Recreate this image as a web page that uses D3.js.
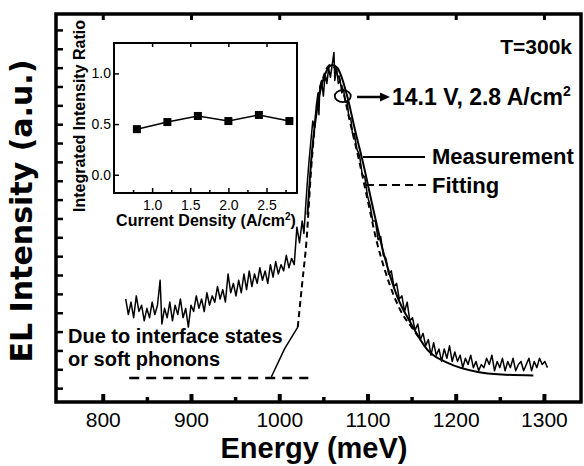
<!DOCTYPE html>
<html>
<head>
<meta charset="utf-8">
<script src="https://cdn.jsdelivr.net/npm/d3@7"></script>
<style>
  body { margin: 0; background: #fff; }
  svg { display: block; }
  text { font-family: "Liberation Sans", Arial, sans-serif; fill: #000; }
</style>
</head>
<body>
<div id="chart"></div>
<script>
// ---- data ----
// measured EL spectrum: [energy meV, intensity a.u.]
var measured = [
  [826,0.25],[829,0.20],[832,0.24],[835,0.19],[838,0.26],[841,0.21],[844,0.23],[847,0.18],[850,0.22],[853,0.19],
  [856,0.24],[859,0.20],[862,0.23],[865,0.31],[867,0.17],[870,0.22],[873,0.19],[876,0.24],[879,0.18],[882,0.23],
  [885,0.20],[888,0.25],[891,0.19],[894,0.22],[897,0.16],[900,0.23],[903,0.21],[906,0.26],[909,0.22],[912,0.25],
  [915,0.21],[918,0.27],[921,0.23],[924,0.26],[927,0.24],[930,0.29],[933,0.25],[936,0.28],[939,0.24],[942,0.33],
  [945,0.27],[948,0.30],[951,0.26],[954,0.31],[957,0.27],[960,0.33],[963,0.28],[966,0.34],[969,0.29],[972,0.33],
  [975,0.30],[978,0.35],[981,0.31],[984,0.34],[987,0.30],[990,0.36],[993,0.32],[996,0.37],[999,0.33],[1002,0.36],
  [1005,0.34],[1008,0.39],[1011,0.35],[1014,0.38],[1017,0.36],[1020,0.48],[1023,0.43],[1026,0.50],[1028,0.46],[1030,0.55],
  [1032,0.63],[1034,0.70],[1036,0.76],[1038,0.82],[1040,0.80],[1042,0.87],[1044,0.91],[1045,0.84],[1046,0.93],[1048,0.95],
  [1050,0.90],[1052,0.97],[1054,0.94],[1056,0.99],[1058,0.96],[1060,1.00],[1062,1.04],[1063,0.95],[1065,0.99],[1067,0.94],
  [1069,0.95],[1071,0.91],[1073,0.92],[1075,0.88],[1077,0.88],[1079,0.83],[1081,0.83],[1083,0.78],[1085,0.78],[1088,0.73],
  [1091,0.71],[1094,0.65],[1097,0.64],[1100,0.58],[1103,0.55],[1106,0.50],[1109,0.50],[1112,0.44],[1115,0.45],[1118,0.39],
  [1121,0.38],[1124,0.33],[1127,0.34],[1130,0.29],[1133,0.30],[1136,0.25],[1139,0.26],[1142,0.21],[1145,0.24],[1148,0.18],
  [1151,0.19],[1154,0.15],[1157,0.17],[1160,0.12],[1163,0.14],[1166,0.10],[1169,0.12],[1172,0.07],[1175,0.11],[1178,0.07],
  [1181,0.09],[1184,0.05],[1187,0.09],[1190,0.06],[1193,0.10],[1196,0.05],[1199,0.08],[1202,0.05],[1205,0.07],[1208,0.03],
  [1211,0.06],[1214,0.04],[1217,0.07],[1220,0.03],[1223,0.05],[1226,0.02],[1229,0.04],[1232,0.03],[1235,0.06],[1238,0.04],
  [1241,0.07],[1244,0.02],[1247,0.05],[1250,0.03],[1253,0.06],[1256,0.02],[1259,0.05],[1262,0.03],[1265,0.06],[1268,0.02],
  [1271,0.04],[1274,0.05],[1277,0.02],[1280,0.04],[1283,0.06],[1286,0.02],[1289,0.05],[1292,0.03],[1295,0.06],[1298,0.04],
  [1301,0.05],[1304,0.03]
];

// smooth solid curve (low-energy foot and main peak)
var footSolid = [[991,0.0],[1006,0.09],[1021,0.16]];
var fitSolid = [
  [1032,0.52],[1037,0.72],[1044,0.88],[1052,0.97],[1060,1.0],[1066,0.99],[1072,0.95],[1077,0.90],
  [1086,0.79],[1095,0.686],[1106,0.545],[1118,0.40],[1134,0.256],[1149,0.173],[1168,0.087],
  [1191,0.045],[1225,0.016],[1252,0.008],[1288,0.005]
];
// dashed fitting curve
var fitDashed = [
  [1021,0.16],[1026,0.30],[1031,0.44],[1036,0.66],[1042,0.85],[1050,0.96],[1058,1.0],[1065,0.98],
  [1072,0.92],[1080,0.82],[1090,0.70],[1100,0.57],[1110,0.44],[1120,0.34],[1130,0.26],[1140,0.20],
  [1150,0.16],[1160,0.12]
];
// dashed baseline of the interface-state band
var baseDashed = [[830,-0.003],[1033,-0.003]];

// inset: integrated intensity ratio vs current density
var currentDensity = [0.8, 1.2, 1.6, 2.0, 2.4, 2.8];
var intensityRatio = [0.45, 0.52, 0.58, 0.53, 0.59, 0.53];

// ticks
var xMajor = [800, 900, 1000, 1100, 1200, 1300];
var xMinor = [850, 950, 1050, 1150, 1250];
var yTicks = d3.range(20).map(function (k) { return 1.112 - k * 0.0604; });
var insetXMajor = [1.0, 1.5, 2.0, 2.5];
var insetXMinor = [0.75, 1.25, 1.75, 2.25, 2.75];
var insetYMajor = [0.0, 0.5, 1.0];

// annotation point (circled)
var circled = [1072, 0.9];

// ---- layout ----
var W = 584, H = 466;
var frame = { left: 56, right: 581, top: 14, bottom: 402 };

var svg = d3.select("#chart").append("svg")
  .attr("width", W)
  .attr("height", H);

var x = d3.scaleLinear().domain([747, 1342]).range([frame.left, frame.right]);
var y = d3.scaleLinear().domain([-0.08, 1.163]).range([frame.bottom, frame.top]);

var line = d3.line()
  .x(function (d) { return x(d[0]); })
  .y(function (d) { return y(d[1]); });

///////////////////////////////////////////////////////////////
// axes (ticks inward, frame drawn separately)
var gx = svg.append("g")
  .attr("transform", "translate(0," + frame.bottom + ")")
  .call(d3.axisBottom(x).tickValues(xMajor).tickSize(-8).tickPadding(10).tickFormat(d3.format("d")));
gx.select(".domain").remove();
gx.selectAll(".tick line").attr("stroke-width", 4);
gx.selectAll("text").style("font-size", "21px");

var gxm = svg.append("g")
  .attr("transform", "translate(0," + frame.bottom + ")")
  .call(d3.axisBottom(x).tickValues(xMinor).tickSize(-5).tickFormat(""));
gxm.select(".domain").remove();
gxm.selectAll(".tick line").attr("stroke-width", 3.5);

var gxt = svg.append("g")
  .attr("transform", "translate(0," + frame.top + ")")
  .call(d3.axisTop(x).tickValues(xMajor).tickSize(-6).tickFormat(""));
gxt.select(".domain").remove();
gxt.selectAll(".tick line").attr("stroke-width", 3);

var gy = svg.append("g")
  .attr("transform", "translate(" + frame.left + ",0)")
  .call(d3.axisLeft(y).tickValues(yTicks).tickSize(-7).tickFormat(""));
gy.select(".domain").remove();
gy.selectAll(".tick line").attr("stroke-width", 2.5);

svg.append("rect")
  .attr("x", frame.left).attr("y", frame.top)
  .attr("width", frame.right - frame.left)
  .attr("height", frame.bottom - frame.top)
  .attr("fill", "none").attr("stroke", "#000").attr("stroke-width", 3.5);

///////////////////////////////////////////////////////////////
// curves
svg.append("path").datum(baseDashed)
  .attr("d", line).attr("fill", "none").attr("stroke", "#000")
  .attr("stroke-width", 2.5).attr("stroke-dasharray", "10,7");

svg.append("path").datum(footSolid)
  .attr("d", line).attr("fill", "none").attr("stroke", "#000").attr("stroke-width", 1.5);

svg.append("path").datum(fitDashed)
  .attr("d", line.curve(d3.curveMonotoneX)).attr("fill", "none").attr("stroke", "#000")
  .attr("stroke-width", 2).attr("stroke-dasharray", "6,4");

svg.append("path").datum(fitSolid)
  .attr("d", line.curve(d3.curveMonotoneX)).attr("fill", "none").attr("stroke", "#000").attr("stroke-width", 2);

svg.append("path").datum(measured)
  .attr("d", line.curve(d3.curveLinear)).attr("fill", "none").attr("stroke", "#000")
  .attr("stroke-width", 1.5).attr("stroke-linejoin", "round");

///////////////////////////////////////////////////////////////
// annotations
svg.append("ellipse")
  .attr("cx", x(circled[0])).attr("cy", y(circled[1]))
  .attr("rx", 8).attr("ry", 6)
  .attr("fill", "none").attr("stroke", "#000").attr("stroke-width", 1.8);

svg.append("line")
  .attr("x1", 357).attr("y1", 97).attr("x2", 382).attr("y2", 97)
  .attr("stroke", "#000").attr("stroke-width", 2.5);
svg.append("path")
  .attr("d", "M380,92.5L390,97L380,101.5Z").attr("fill", "#000");

var note = svg.append("text").attr("x", 392).attr("y", 105)
  .style("font-size", "23px").style("font-weight", "bold");
note.append("tspan").text("14.1 V, 2.8 A/cm");
note.append("tspan").attr("dy", -9).style("font-size", "14px").text("2");

svg.append("text").attr("x", 572).attr("y", 54).attr("text-anchor", "end")
  .style("font-size", "21px").style("font-weight", "bold").text("T=300k");

// legend
svg.append("line").attr("x1", 363).attr("x2", 425).attr("y1", 157).attr("y2", 157)
  .attr("stroke", "#000").attr("stroke-width", 2);
svg.append("text").attr("x", 432).attr("y", 164)
  .style("font-size", "22px").style("font-weight", "bold").text("Measurement");
svg.append("line").attr("x1", 366).attr("x2", 428).attr("y1", 185).attr("y2", 185)
  .attr("stroke", "#000").attr("stroke-width", 2).attr("stroke-dasharray", "8,5");
svg.append("text").attr("x", 432).attr("y", 193)
  .style("font-size", "22px").style("font-weight", "bold").text("Fitting");

svg.append("text").attr("x", 68).attr("y", 343)
  .style("font-size", "20px").style("font-weight", "bold").text("Due to interface states");
svg.append("text").attr("x", 68).attr("y", 366)
  .style("font-size", "20px").style("font-weight", "bold").text("or soft phonons");

// axis titles
svg.append("text").attr("x", 314).attr("y", 458).attr("text-anchor", "middle")
  .style("font-size", "29px").style("font-weight", "bold").text("Energy (meV)");
svg.append("text")
  .attr("transform", "translate(32,211)rotate(-90)")
  .attr("text-anchor", "middle")
  .style("font-family", "'DejaVu Sans', sans-serif")
  .style("font-size", "30px").style("font-weight", "bold").text("EL Intensity (a.u.)");

///////////////////////////////////////////////////////////////
// inset
var inset = { left: 114, right: 297, top: 43, bottom: 193 };
var xi = d3.scaleLinear().domain([0.5, 2.9]).range([inset.left, inset.right]);
var yi = d3.scaleLinear().domain([-0.18, 1.30]).range([inset.bottom, inset.top]);

svg.append("rect")
  .attr("x", inset.left).attr("y", inset.top)
  .attr("width", inset.right - inset.left).attr("height", inset.bottom - inset.top)
  .attr("fill", "#fff");

var ix = svg.append("g")
  .attr("transform", "translate(0," + inset.bottom + ")")
  .call(d3.axisBottom(xi).tickValues(insetXMajor).tickSize(-5).tickPadding(7).tickFormat(d3.format(".1f")));
ix.select(".domain").remove();
ix.selectAll(".tick line").attr("stroke-width", 1.5);
ix.selectAll("text").style("font-size", "14px");

var ixm = svg.append("g")
  .attr("transform", "translate(0," + inset.bottom + ")")
  .call(d3.axisBottom(xi).tickValues(insetXMinor).tickSize(-3).tickFormat(""));
ixm.select(".domain").remove();
ixm.selectAll(".tick line").attr("stroke-width", 1.5);

var ixt = svg.append("g")
  .attr("transform", "translate(0," + inset.top + ")")
  .call(d3.axisTop(xi).tickValues(insetXMajor).tickSize(-4).tickFormat(""));
ixt.select(".domain").remove();
ixt.selectAll(".tick line").attr("stroke-width", 1.5);

var iy = svg.append("g")
  .attr("transform", "translate(" + inset.left + ",0)")
  .call(d3.axisLeft(yi).tickValues(insetYMajor).tickSize(-5).tickPadding(3).tickFormat(d3.format(".1f")));
iy.select(".domain").remove();
iy.selectAll(".tick line").attr("stroke-width", 1.5);
iy.selectAll("text").style("font-size", "14px");

svg.append("rect")
  .attr("x", inset.left).attr("y", inset.top)
  .attr("width", inset.right - inset.left).attr("height", inset.bottom - inset.top)
  .attr("fill", "none").attr("stroke", "#000").attr("stroke-width", 2);

var insetData = d3.zip(currentDensity, intensityRatio);
svg.append("path").datum(insetData)
  .attr("d", d3.line().x(function (d) { return xi(d[0]); }).y(function (d) { return yi(d[1]); }))
  .attr("fill", "none").attr("stroke", "#000").attr("stroke-width", 1.5);

svg.selectAll("rect.marker")
  .data(insetData)
  .enter()
  .append("rect")
  .attr("class", "marker")
  .attr("x", function (d) { return xi(d[0]) - 4; })
  .attr("y", function (d) { return yi(d[1]) - 4; })
  .attr("width", 8).attr("height", 8)
  .attr("fill", "#000");

var ixTitle = svg.append("text").attr("x", 206).attr("y", 226).attr("text-anchor", "middle")
  .style("font-size", "16px").style("font-weight", "bold");
ixTitle.append("tspan").text("Current Density (A/cm");
ixTitle.append("tspan").attr("dy", -6).style("font-size", "10px").text("2");
ixTitle.append("tspan").attr("dy", 6).text(")");

svg.append("text")
  .attr("transform", "translate(85,116)rotate(-90)")
  .attr("text-anchor", "middle")
  .style("font-size", "16px").style("font-weight", "bold").text("Integrated Intensity Ratio");
</script>
</body>
</html>
